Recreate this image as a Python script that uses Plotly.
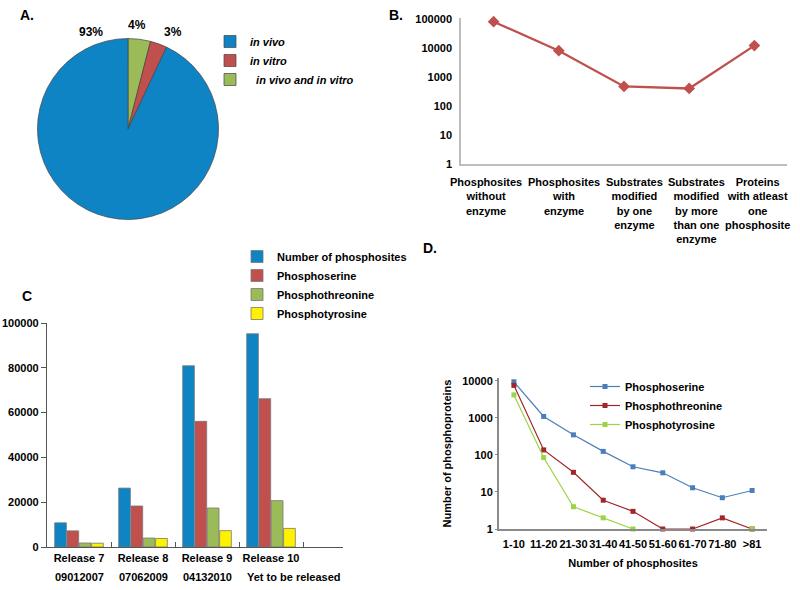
import plotly.graph_objects as go

W, H = 800, 590
def px(x): return x / W
def py(y): return 1 - y / H

FONT = "Liberation Sans, Arial, Helvetica, sans-serif"

# ---------- Panel A data (clockwise from 12 o'clock) ----------
pie_labels = ["\u00a0\u00a0in vivo and in vitro", "in vitro", "in vivo"]
pie_values = [4, 3, 93]
pie_colors = ["#9BBB59", "#C0504D", "#0E84C4"]

# ---------- Panel B data ----------
b_categories = ["Phosphosites<br>without<br>enzyme",
                "Phosphosites<br>with<br>enzyme",
                "Substrates<br>modified<br>by one<br>enzyme",
                "Substrates<br>modified<br>by more<br>than one<br>enzyme",
                "Proteins<br>with atleast<br>one<br>phosphosite"]
b_values = [80000, 8000, 470, 400, 12000]
b_ticks = [1, 10, 100, 1000, 10000, 100000]

# ---------- Panel C data ----------
c_releases = ["Release 7", "Release 8", "Release 9", "Release 10"]
c_dates = ["09012007", "07062009", "04132010", "Yet to be released"]
c_series = ["Number of phosphosites", "Phosphoserine", "Phosphothreonine", "Phosphotyrosine"]
c_total = [10800, 26300, 80900, 95200]
c_serine = [7200, 18300, 56100, 66200]
c_threonine = [1800, 4000, 17400, 20700]
c_tyrosine = [1700, 3800, 7300, 8300]
c_colors = ["#0E84C4", "#C0504D", "#9BBB59", "#FFF200"]

# ---------- Panel D data ----------
d_categories = ["1-10", "11-20", "21-30", "31-40", "41-50", "51-60", "61-70", "71-80", ">81"]
d_serine = [9500, 1100, 350, 125, 48, 33, 13, 7, 11]
d_threonine = [7600, 137, 34, 6, 3, 1, 1, 2, 1]
d_tyrosine = [4200, 85, 4, 2, 1, None, None, None, 1]
d_names = ["Phosphoserine", "Phosphothreonine", "Phosphotyrosine"]
d_colors = ["#4A7EBB", "#A0262A", "#9BD444"]
d_ticks = [1, 10, 100, 1000, 10000]

fig = go.Figure()

# Panel A pie
fig.add_trace(go.Pie(
    labels=pie_labels, values=pie_values, sort=False, direction="clockwise",
    rotation=0, textinfo="none", marker=dict(colors=pie_colors, line=dict(color="#444", width=0.7)),
    domain=dict(x=[px(37.5), px(218.5)], y=[py(219.5), py(38.5)]),
    legend="legend", showlegend=True, automargin=False,
))

# Panel B line
fig.add_trace(go.Scatter(
    x=b_categories, y=b_values, mode="lines+markers", showlegend=False,
    line=dict(color="#C0504D", width=2.3),
    marker=dict(symbol="diamond", size=9, color="#C0504D"),
    xaxis="x", yaxis="y", cliponaxis=False,
))

# Panel C bars
for name, vals, col in zip(c_series, [c_total, c_serine, c_threonine, c_tyrosine], c_colors):
    fig.add_trace(go.Bar(
        x=c_releases, y=vals, name=name, marker=dict(color=col, line=dict(color="#777", width=0.8)),
        xaxis="x2", yaxis="y2", legend="legend2",
    ))

# Panel D lines
for name, vals, col in zip(d_names, [d_serine, d_threonine, d_tyrosine], d_colors):
    fig.add_trace(go.Scatter(
        x=d_categories, y=vals, name=name, mode="lines+markers",
        line=dict(color=col, width=1.2), marker=dict(symbol="square", size=5, color=col),
        xaxis="x3", yaxis="y3", legend="legend3", cliponaxis=False, connectgaps=False,
    ))

bold11 = dict(family=FONT, size=11, color="#000", weight="bold")

annotations = []
# pie percentage labels
total = sum(pie_values)
pct_pos = [(137, 25), (173, 32), (91, 32)]
for v, (x, y) in zip(pie_values, pct_pos):
    annotations.append(dict(text=f"{round(v / total * 100)}%", x=px(x), y=py(y), xref="paper", yref="paper",
                            showarrow=False, xanchor="center", yanchor="middle",
                            font=dict(family=FONT, size=12, color="#000", weight="bold")))
# panel letters
for t, x, y in [("A.", 27, 15), ("B.", 396, 15), ("C", 27, 296), ("D.", 430, 248)]:
    annotations.append(dict(text=t, x=px(x), y=py(y), xref="paper", yref="paper", showarrow=False,
                            xanchor="center", yanchor="middle",
                            font=dict(family=FONT, size=14, color="#000", weight="bold")))
# category labels under panel B (spread a little as in the original layout)
b_label_shift = [-8, 5, 10, 7, 3]
for cat, sh in zip(b_categories, b_label_shift):
    annotations.append(dict(text=cat, x=cat, y=0, xref="x", yref="y", showarrow=False,
                            xanchor="center", yanchor="top", xshift=sh, yshift=-10, font=bold11))
# release dates under C categories
for rel, d in zip(c_releases, c_dates):
    annotations.append(dict(text=d, x=rel, y=0, xref="x2", yref="y2", showarrow=False,
                            xanchor="left", yanchor="middle", xshift=-26, yshift=-30, font=bold11))

fig.update_layout(
    width=W, height=H, margin=dict(l=0, r=0, t=0, b=0, autoexpand=False),
    paper_bgcolor="white", plot_bgcolor="white",
    font=dict(family=FONT, size=11, color="#000"),
    bargap=0.23, bargroupgap=0.05, barmode="group",
    annotations=annotations,
    # Panel B axes
    xaxis=dict(domain=[px(461), px(787)], anchor="y", type="category", range=[-0.5, 4.5],
               showline=True, linecolor="#BDBDBD", linewidth=1.5, ticks="", showgrid=False,
               showticklabels=False, automargin=False),
    yaxis=dict(domain=[py(164), py(18)], anchor="x", type="log", range=[0, 5.03],
               tickvals=b_ticks, ticktext=[str(t) for t in b_ticks],
               showline=True, linecolor="#BDBDBD", linewidth=1.5, ticks="", showgrid=False,
               zeroline=False, tickfont=bold11, ticklabelstandoff=5, automargin=False),
    # Panel C axes
    xaxis2=dict(domain=[px(47), px(343)], anchor="y2", type="category",
                showline=True, linecolor="#555", linewidth=1.3, ticks="inside", tickson="boundaries",
                ticklen=5, tickcolor="#555", tickwidth=1.3, showgrid=False, tickfont=bold11,
                ticklabelstandoff=1, tickangle=0, automargin=False),
    yaxis2=dict(domain=[py(547), py(323)], anchor="x2", range=[0, 100000], dtick=20000,
                tickformat="d", showline=True, linecolor="#555", linewidth=1.3, ticks="outside",
                ticklen=5, tickcolor="#555", tickwidth=1.3, showgrid=False, zeroline=False,
                tickfont=bold11, automargin=False),
    # Panel D axes
    xaxis3=dict(domain=[px(499), px(767)], anchor="y3", type="category", range=[-0.5, 8.5],
                showline=True, linecolor="#8A8A8A", linewidth=2, ticks="", showgrid=False,
                tickfont=bold11, ticklabelstandoff=4, tickangle=0, automargin=False,
                title=dict(text="Number of phosphosites", font=bold11, standoff=10)),
    yaxis3=dict(domain=[py(529), py(378)], anchor="x3", type="log", range=[0, 4.08],
                tickvals=d_ticks, ticktext=[str(t) for t in d_ticks],
                showline=True, linecolor="#8A8A8A", linewidth=2, ticks="outside", ticklen=2,
                tickcolor="#8A8A8A", showgrid=False, zeroline=False, tickfont=bold11, automargin=False,
                title=dict(text="Number of phosphoproteins", font=bold11, standoff=8)),
    legend=dict(x=px(210), y=py(27), xanchor="left", yanchor="top", bgcolor="rgba(0,0,0,0)",
                traceorder="reversed",
                font=dict(family=FONT, size=11, color="#000", weight="bold", style="italic"),
                itemclick=False),
    legend2=dict(x=px(237), y=py(242), xanchor="left", yanchor="top", bgcolor="rgba(0,0,0,0)",
                 font=bold11, itemclick=False),
    legend3=dict(x=px(585), y=py(372), xanchor="left", yanchor="top", bgcolor="rgba(0,0,0,0)",
                 font=bold11, itemclick=False),
)

# remove the browser's default 8px body margin so the figure fills the window exactly
fig.write_html("out.html", config={"displayModeBar": False},
               post_script="document.body.style.margin='0';document.body.style.overflow='hidden';")
